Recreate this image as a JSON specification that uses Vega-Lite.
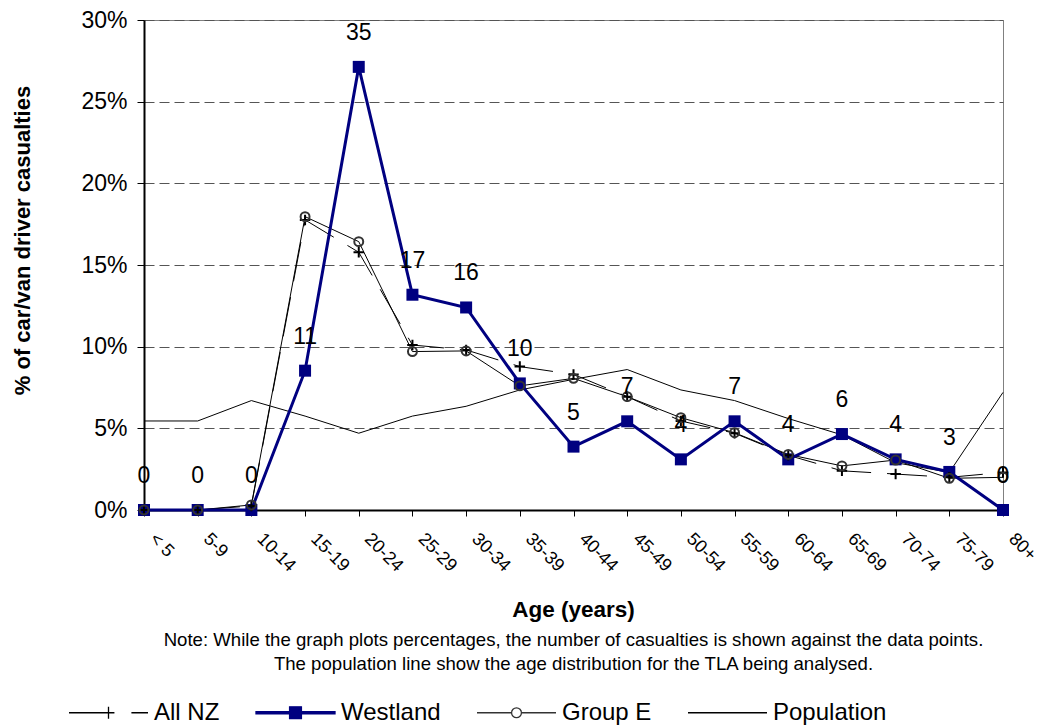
{
  "$schema": "https://vega.github.io/schema/vega-lite/v6.json",
  "width": 859,
  "height": 490,
  "autosize": {"type": "none"},
  "padding": {"left": 144, "top": 20, "right": 35, "bottom": 216},
  "background": "white",
  "config": {
    "font": "Liberation Sans",
    "view": {"stroke": "#808080", "strokeWidth": 1},
    "legend": {"symbolFillColor": "transparent", "symbolStrokeColor": "black", "padding": 0}
  },
  "title": {
    "text": "Age (years)",
    "subtitle": [
      "Note: While the graph plots percentages, the number of casualties is shown against the data points.",
      "The population line  show the age distribution for the TLA being analysed."
    ],
    "orient": "bottom",
    "anchor": "middle",
    "frame": "group",
    "offset": -126,
    "fontSize": 22.5,
    "fontWeight": "bold",
    "color": "black",
    "subtitleFontSize": 18.6,
    "subtitleColor": "black",
    "subtitleLineHeight": 24,
    "subtitlePadding": 9
  },
  "data": {
    "values": [
      {"age": "< 5", "series": "Westland", "pct": 0, "n": 0},
      {"age": "5-9", "series": "Westland", "pct": 0, "n": 0},
      {"age": "10-14", "series": "Westland", "pct": 0, "n": 0},
      {"age": "15-19", "series": "Westland", "pct": 8.53, "n": 11},
      {"age": "20-24", "series": "Westland", "pct": 27.13, "n": 35},
      {"age": "25-29", "series": "Westland", "pct": 13.18, "n": 17},
      {"age": "30-34", "series": "Westland", "pct": 12.4, "n": 16},
      {"age": "35-39", "series": "Westland", "pct": 7.75, "n": 10},
      {"age": "40-44", "series": "Westland", "pct": 3.88, "n": 5},
      {"age": "45-49", "series": "Westland", "pct": 5.43, "n": 7},
      {"age": "50-54", "series": "Westland", "pct": 3.1, "n": 4},
      {"age": "55-59", "series": "Westland", "pct": 5.43, "n": 7},
      {"age": "60-64", "series": "Westland", "pct": 3.1, "n": 4},
      {"age": "65-69", "series": "Westland", "pct": 4.65, "n": 6},
      {"age": "70-74", "series": "Westland", "pct": 3.1, "n": 4},
      {"age": "75-79", "series": "Westland", "pct": 2.33, "n": 3},
      {"age": "80+", "series": "Westland", "pct": 0, "n": 0},
      {"age": "< 5", "series": "Group E", "pct": 0},
      {"age": "5-9", "series": "Group E", "pct": 0},
      {"age": "10-14", "series": "Group E", "pct": 0.31},
      {"age": "15-19", "series": "Group E", "pct": 17.96},
      {"age": "20-24", "series": "Group E", "pct": 16.43},
      {"age": "25-29", "series": "Group E", "pct": 9.7},
      {"age": "30-34", "series": "Group E", "pct": 9.74},
      {"age": "35-39", "series": "Group E", "pct": 7.6},
      {"age": "40-44", "series": "Group E", "pct": 8.06},
      {"age": "45-49", "series": "Group E", "pct": 6.94},
      {"age": "50-54", "series": "Group E", "pct": 5.65},
      {"age": "55-59", "series": "Group E", "pct": 4.73},
      {"age": "60-64", "series": "Group E", "pct": 3.4},
      {"age": "65-69", "series": "Group E", "pct": 2.7},
      {"age": "70-74", "series": "Group E", "pct": 3.06},
      {"age": "75-79", "series": "Group E", "pct": 1.94},
      {"age": "80+", "series": "Group E", "pct": 2.0},
      {"age": "< 5", "series": "All NZ", "pct": 0},
      {"age": "5-9", "series": "All NZ", "pct": 0},
      {"age": "10-14", "series": "All NZ", "pct": 0.25},
      {"age": "15-19", "series": "All NZ", "pct": 17.76},
      {"age": "20-24", "series": "All NZ", "pct": 15.78},
      {"age": "25-29", "series": "All NZ", "pct": 10.1},
      {"age": "30-34", "series": "All NZ", "pct": 9.8},
      {"age": "35-39", "series": "All NZ", "pct": 8.78},
      {"age": "40-44", "series": "All NZ", "pct": 8.3},
      {"age": "45-49", "series": "All NZ", "pct": 6.94},
      {"age": "50-54", "series": "All NZ", "pct": 5.45},
      {"age": "55-59", "series": "All NZ", "pct": 4.7},
      {"age": "60-64", "series": "All NZ", "pct": 3.35},
      {"age": "65-69", "series": "All NZ", "pct": 2.4},
      {"age": "70-74", "series": "All NZ", "pct": 2.2},
      {"age": "75-79", "series": "All NZ", "pct": 2.0},
      {"age": "80+", "series": "All NZ", "pct": 2.3},
      {"age": "< 5", "series": "Population", "pct": 5.45},
      {"age": "5-9", "series": "Population", "pct": 5.45},
      {"age": "10-14", "series": "Population", "pct": 6.7},
      {"age": "15-19", "series": "Population", "pct": 5.75},
      {"age": "20-24", "series": "Population", "pct": 4.7},
      {"age": "25-29", "series": "Population", "pct": 5.75},
      {"age": "30-34", "series": "Population", "pct": 6.35},
      {"age": "35-39", "series": "Population", "pct": 7.35},
      {"age": "40-44", "series": "Population", "pct": 8.0},
      {"age": "45-49", "series": "Population", "pct": 8.6},
      {"age": "50-54", "series": "Population", "pct": 7.35},
      {"age": "55-59", "series": "Population", "pct": 6.7},
      {"age": "60-64", "series": "Population", "pct": 5.6},
      {"age": "65-69", "series": "Population", "pct": 4.6},
      {"age": "70-74", "series": "Population", "pct": 2.9},
      {"age": "75-79", "series": "Population", "pct": 2.3},
      {"age": "80+", "series": "Population", "pct": 7.2}
    ]
  },
  "encoding": {
    "x": {
      "field": "age",
      "type": "ordinal",
      "sort": ["< 5", "5-9", "10-14", "15-19", "20-24", "25-29", "30-34", "35-39", "40-44", "45-49", "50-54", "55-59", "60-64", "65-69", "70-74", "75-79", "80+"],
      "scale": {"type": "point", "padding": 0},
      "axis": {
        "title": null,
        "domainColor": "black",
        "domainWidth": 2,
        "tickColor": "black",
        "tickSize": 6,
        "tickWidth": 1,
        "labelAngle": 45,
        "labelAlign": "left",
        "labelBaseline": "middle",
        "labelPadding": 20,
        "labelOffset": 8,
        "labelFontSize": 18,
        "labelColor": "black",
        "labelFont": "Liberation Sans",
        "grid": false
      }
    },
    "y": {
      "field": "pct",
      "type": "quantitative",
      "scale": {"domain": [0, 30], "nice": false, "zero": true},
      "axis": {
        "title": "% of car/van driver casualties",
        "titleFontSize": 22,
        "titleFontWeight": "bold",
        "titleColor": "black",
        "titleFont": "Liberation Sans",
        "titlePadding": 46,
        "titleY": 220,
        "values": [0, 5, 10, 15, 20, 25, 30],
        "labelExpr": "datum.value + '%'",
        "labelFontSize": 23,
        "labelColor": "black",
        "labelFont": "Liberation Sans",
        "labelPadding": 10,
        "domainColor": "black",
        "domainWidth": 2,
        "tickColor": "black",
        "tickSize": 7,
        "grid": true,
        "gridColor": "#555555",
        "gridDash": [10, 5],
        "gridWidth": 1
      }
    }
  },
  "layer": [
    {
      "transform": [{"filter": "datum.series === 'Population'"}],
      "mark": {"type": "line", "stroke": "black", "strokeWidth": 1}
    },
    {
      "transform": [{"filter": "datum.series === 'All NZ'"}],
      "mark": {"type": "line", "stroke": "black", "strokeWidth": 1, "strokeDash": [40, 16]}
    },
    {
      "transform": [{"filter": "datum.series === 'Group E'"}],
      "mark": {"type": "line", "stroke": "black", "strokeWidth": 1}
    },
    {
      "transform": [{"filter": "datum.series === 'Westland'"}],
      "mark": {"type": "line", "stroke": "#000080", "strokeWidth": 3}
    },
    {
      "transform": [{"filter": "datum.series === 'Westland'"}],
      "mark": {"type": "point", "shape": "square", "size": 144, "filled": true, "color": "#000080", "opacity": 1}
    },
    {
      "transform": [{"filter": "datum.series === 'All NZ'"}],
      "mark": {"type": "point", "shape": "M-1,0H1M0,-1V1", "size": 110, "filled": false, "stroke": "black", "strokeWidth": 2, "opacity": 1}
    },
    {
      "transform": [{"filter": "datum.series === 'Group E'"}],
      "mark": {"type": "point", "shape": "circle", "size": 80, "filled": false, "stroke": "#333333", "strokeWidth": 2, "opacity": 1}
    },
    {
      "transform": [{"filter": "datum.series === 'Westland'"}],
      "mark": {"type": "text", "fontSize": 23, "font": "Liberation Sans", "color": "black", "dy": -34, "baseline": "middle", "align": "center"},
      "encoding": {"text": {"field": "n", "type": "quantitative"}}
    },
    {
      "mark": {"type": "point", "opacity": 0},
      "encoding": {
        "shape": {
          "field": "series",
          "type": "nominal",
          "scale": {
            "domain": ["All NZ", "Westland", "Group E", "Population"],
            "range": [
              "M-1,0H-0.1M0.58,0H1M-0.15,0H0.15M0,-0.15V0.15",
              "M-1,-0.025H1V0.025H-1ZM-0.15,-0.15H0.15V0.15H-0.15Z",
              "M-1,0H-0.125M0.125,0H1M0.125,0A0.125,0.125 0 1,1 -0.125,0A0.125,0.125 0 1,1 0.125,0Z",
              "M-1,0H1"
            ]
          },
          "legend": {"orient": "none", "legendX": -76, "legendY": 652, "direction": "horizontal", "title": null, "symbolSize": 6241, "labelFontSize": 24, "labelFont": "Liberation Sans", "labelColor": "black", "labelOffset": 5, "columnPadding": 33, "symbolOpacity": 1, "symbolStrokeWidth": 1.3}
        },
        "stroke": {
          "field": "series",
          "type": "nominal",
          "scale": {"domain": ["All NZ", "Westland", "Group E", "Population"], "range": ["black", "#000080", "#333333", "black"]},
          "legend": {"orient": "none", "legendX": -76, "legendY": 652, "direction": "horizontal", "title": null, "symbolSize": 6241, "labelFontSize": 24, "labelFont": "Liberation Sans", "labelColor": "black", "labelOffset": 5, "columnPadding": 33, "symbolOpacity": 1, "symbolStrokeWidth": 1.3}
        },
        "fill": {
          "field": "series",
          "type": "nominal",
          "scale": {"domain": ["All NZ", "Westland", "Group E", "Population"], "range": ["transparent", "#000080", "transparent", "transparent"]},
          "legend": {"orient": "none", "legendX": -76, "legendY": 652, "direction": "horizontal", "title": null, "symbolSize": 6241, "labelFontSize": 24, "labelFont": "Liberation Sans", "labelColor": "black", "labelOffset": 5, "columnPadding": 33, "symbolOpacity": 1, "symbolStrokeWidth": 1.3}
        }
      }
    }
  ]
}
